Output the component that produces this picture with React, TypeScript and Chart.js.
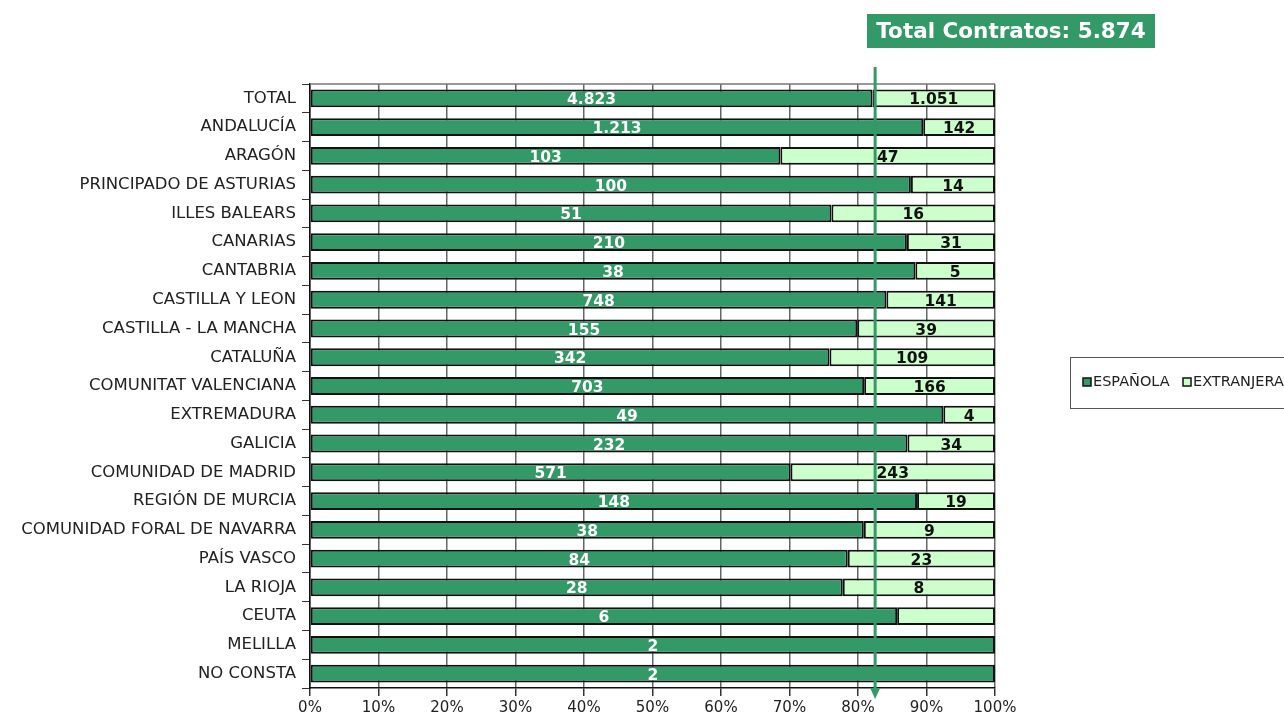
import React, { useEffect, useRef } from 'react';
import { Chart, registerables } from 'chart.js';
Chart.register(...registerables);

const categories = ['TOTAL', 'ANDALUCÍA', 'ARAGÓN', 'PRINCIPADO DE ASTURIAS', 'ILLES BALEARS', 'CANARIAS', 'CANTABRIA', 'CASTILLA Y LEON', 'CASTILLA - LA MANCHA', 'CATALUÑA', 'COMUNITAT VALENCIANA', 'EXTREMADURA', 'GALICIA', 'COMUNIDAD DE MADRID', 'REGIÓN DE MURCIA', 'COMUNIDAD FORAL DE NAVARRA', 'PAÍS VASCO', 'LA RIOJA', 'CEUTA', 'MELILLA', 'NO CONSTA'];
const espanola = [4823, 1213, 103, 100, 51, 210, 38, 748, 155, 342, 703, 49, 232, 571, 148, 38, 84, 28, 6, 2, 2];
const extranjera = [1051, 142, 47, 14, 16, 31, 5, 141, 39, 109, 166, 4, 34, 243, 19, 9, 23, 8, 1, 0, 0];
const seriesNames = ['ESPAÑOLA', 'EXTRANJERA'];
const hiddenForeignLabels = ['CEUTA'];
const xTicks = [0, 10, 20, 30, 40, 50, 60, 70, 80, 90, 100];
const arrowPercent = 82.5;
const titlePrefix = 'Total Contratos: ';

const DARK = '#339966';
const LIGHT = '#ccffcc';
const FONT = "'DejaVu Sans', sans-serif";

const fmt = (n: number) => String(n).replace(/\B(?=(\d{3})+(?!\d))/g, '.');

export default function App() {
  const ref = useRef<HTMLCanvasElement>(null);
  useEffect(() => {
    const counts = [espanola, extranjera];
    const totals = espanola.map((v, i) => v + extranjera[i]);
    const pct = counts.map(arr => arr.map((v, i) => (totals[i] ? (v / totals[i]) * 100 : 0)));
    const grand = totals[0];

    const overlay = {
      id: 'overlay',
      beforeDatasetsDraw(chart: any) {
        const { ctx, chartArea: a } = chart;
        ctx.save();
        ctx.strokeStyle = '#777';
        ctx.lineWidth = 1.5;
        ctx.beginPath();
        ctx.moveTo(a.left, a.top);
        ctx.lineTo(a.right, a.top);
        ctx.stroke();
        ctx.restore();
      },
      afterDatasetsDraw(chart: any) {
        const { ctx } = chart;
        ctx.save();
        ctx.font = `bold 15.5px ${FONT}`;
        ctx.textAlign = 'center';
        ctx.textBaseline = 'middle';
        chart.data.datasets.forEach((ds: any, di: number) => {
          const meta = chart.getDatasetMeta(di);
          meta.data.forEach((bar: any, j: number) => {
            const v = counts[di][j];
            if (!v) return;
            if (di === 1 && hiddenForeignLabels.includes(categories[j])) return;
            ctx.fillStyle = di === 0 ? '#ffffff' : '#111111';
            ctx.fillText(fmt(v), (bar.x + bar.base) / 2, bar.y + 2);
          });
        });
        ctx.restore();
      },
      afterDraw(chart: any) {
        const { ctx, chartArea: a, scales } = chart;
        ctx.save();
        // arrow
        const ax = scales.x.getPixelForValue(arrowPercent);
        ctx.strokeStyle = DARK;
        ctx.fillStyle = DARK;
        ctx.lineWidth = 3;
        ctx.beginPath();
        ctx.moveTo(ax, 67);
        ctx.lineTo(ax, a.bottom + 2);
        ctx.stroke();
        ctx.beginPath();
        ctx.moveTo(ax - 5, a.bottom);
        ctx.lineTo(ax + 5, a.bottom);
        ctx.lineTo(ax, a.bottom + 11);
        ctx.closePath();
        ctx.fill();
        // title box
        ctx.fillStyle = DARK;
        ctx.fillRect(867, 14, 288, 34);
        ctx.fillStyle = '#ffffff';
        ctx.font = `bold 21.5px ${FONT}`;
        ctx.textAlign = 'center';
        ctx.textBaseline = 'middle';
        ctx.fillText(titlePrefix + fmt(grand), 1011, 32);
        // legend
        ctx.strokeStyle = '#555';
        ctx.lineWidth = 1;
        ctx.strokeRect(1070.5, 357.5, 230, 51);
        ctx.font = `14.5px ${FONT}`;
        ctx.textAlign = 'left';
        const items = [
          { x: 1083, c: DARK },
          { x: 1183, c: LIGHT },
        ];
        items.forEach((it, i) => {
          ctx.fillStyle = it.c;
          ctx.fillRect(it.x, 378, 8, 8);
          ctx.strokeStyle = '#111';
          ctx.lineWidth = 1.5;
          ctx.strokeRect(it.x, 378, 8, 8);
          ctx.fillStyle = '#222';
          ctx.fillText(chart.data.datasets[i].label, it.x + 10, 382.5);
        });
        ctx.restore();
      },
    };

    const chart = new Chart(ref.current!, {
      type: 'bar',
      data: {
        labels: categories,
        datasets: [
          { label: seriesNames[0], data: pct[0], backgroundColor: DARK, borderColor: '#111', borderWidth: 2, borderSkipped: false, categoryPercentage: 1, barPercentage: 0.62 },
          { label: seriesNames[1], data: pct[1], backgroundColor: LIGHT, borderColor: '#111', borderWidth: 2, borderSkipped: false, categoryPercentage: 1, barPercentage: 0.62 },
        ],
      },
      options: {
        indexAxis: 'y',
        responsive: false,
        animation: false,
        layout: { padding: { top: 84, right: 289, left: 0, bottom: 0 } },
        plugins: { legend: { display: false }, tooltip: { enabled: false }, title: { display: false } },
        scales: {
          x: {
            stacked: true,
            min: 0,
            max: 100,
            afterFit: (s: any) => { s.height = 28; },
            afterBuildTicks: (s: any) => { s.ticks = xTicks.map(v => ({ value: v })); },
            ticks: { callback: (v: any) => v + '%', font: { family: FONT, size: 15 }, color: '#222', padding: 3, maxRotation: 0 },
            grid: { color: '#666', lineWidth: 1.5, tickLength: 8, drawTicks: true, tickColor: '#333' },
            border: { color: '#111', width: 1.5 },
          },
          y: {
            stacked: true,
            afterFit: (s: any) => { s.width = 310; },
            ticks: { font: { family: FONT, size: 16.5 }, color: '#222', padding: 6, autoSkip: false },
            grid: { drawOnChartArea: false, tickLength: 8, color: '#333', lineWidth: 1 },
            border: { color: '#111', width: 1.5 },
          },
        },
      },
      plugins: [overlay],
    } as any);
    return () => chart.destroy();
  }, []);
  return (
    <div style={{ position: 'fixed', left: 0, top: 0, width: 1284, height: 716, background: '#fff' }}>
      <canvas ref={ref} width={1284} height={716} style={{ display: 'block' }} />
    </div>
  );
}
